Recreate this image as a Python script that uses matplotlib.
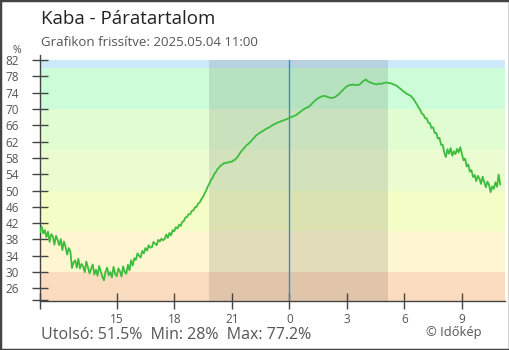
import matplotlib
matplotlib.use("Agg")
import matplotlib.pyplot as plt
from matplotlib.patches import Rectangle

plt.rcParams['font.family'] = ['Open Sans', 'DejaVu Sans']

# humidity readings, every 5 minutes from 11:00 (day before) to 11:00
start_hour = -13.0
step_hour = 1 / 12
humidity = [
    39.8, 41.2, 39.5, 40.3, 38.6, 39.9, 37.4, 39.3, 38.8, 36.7,
    38.9, 37.9, 36.6, 38.1, 35.4, 37.5, 36.2, 34.3, 35.9, 35.1,
    31.0, 32.4, 32.9, 31.1, 33.3, 30.9, 32.0, 31.4, 30.0, 32.6,
    31.2, 29.7, 30.8, 31.9, 29.4, 30.6, 29.1, 31.5, 30.2, 28.9,
    28.0, 30.1, 31.1, 29.2, 30.0, 28.7, 31.3, 29.6, 29.0, 30.9,
    30.2, 28.9, 31.4, 30.1, 29.6, 31.8, 30.4, 32.9, 31.6, 33.4,
    33.0, 34.6, 34.0, 33.6, 35.2, 34.6, 35.9, 35.3, 36.6, 36.0,
    36.1, 37.4, 37.0, 36.6, 37.9, 37.5, 38.2, 37.8, 38.1, 39.2,
    38.4, 39.6, 39.0, 40.3, 40.0, 41.0, 40.7, 41.6, 41.3, 42.3,
    42.5, 43.4, 43.5, 44.2, 44.2, 45.0, 45.1, 45.9, 46.0, 46.8,
    47.1, 47.9, 48.4, 49.3, 50.0, 51.0, 51.7, 52.6, 53.1, 54.0,
    54.5, 55.2, 55.6, 56.1, 56.3, 56.7, 56.7, 56.9, 56.8, 57.1,
    57.0, 57.4, 57.5, 58.0, 58.4, 59.1, 59.6, 60.1, 60.5, 61.0,
    61.3, 61.7, 62.0, 62.5, 62.9, 63.4, 63.7, 64.0, 64.2, 64.5,
    64.7, 65.0, 65.2, 65.4, 65.6, 65.9, 66.1, 66.3, 66.5, 66.7,
    66.8, 67.0, 67.1, 67.3, 67.4, 67.6, 67.8, 68.0, 68.1, 68.3,
    68.4, 68.7, 69.0, 69.3, 69.6, 69.9, 70.1, 70.3, 70.5, 70.8,
    71.2, 71.6, 72.0, 72.3, 72.6, 72.8, 73.0, 73.1, 73.2, 73.1,
    72.9, 72.8, 72.7, 72.7, 72.8, 73.0, 73.3, 73.6, 74.0, 74.4,
    74.8, 75.2, 75.5, 75.7, 75.9, 75.8, 76.0, 75.8, 75.9, 75.8,
    76.0, 76.3, 76.7, 77.0, 77.2, 76.8, 76.6, 76.4, 76.3, 76.1,
    76.1, 76.0, 76.2, 76.1, 76.2, 76.3, 76.4, 76.5, 76.3, 76.3,
    76.2, 76.0, 75.9, 75.7, 75.4, 75.1, 74.8, 74.4, 74.2, 73.8,
    73.6, 73.4, 73.2, 72.7, 72.3, 71.6, 71.0, 70.3, 69.7, 68.8,
    68.6, 67.7, 67.7, 66.6, 66.5, 65.3, 65.5, 64.1, 64.1, 62.7,
    62.9, 61.2, 61.2, 59.3, 58.2, 60.1, 59.0, 60.4, 58.5, 59.6,
    58.9, 60.2, 59.3, 60.6, 59.0, 57.4, 57.8, 55.9, 56.4, 54.6,
    55.0, 53.3, 53.8, 52.3, 53.6, 52.9, 51.6, 53.4, 52.1, 50.8,
    52.2, 51.4, 49.6, 51.0, 50.4, 52.0, 50.9, 53.9, 51.5,
]
hours = [start_hour + i * step_hour for i in range(len(humidity))]

# coloured humidity bands
band_edges = [23.05, 30, 40, 50, 60, 70, 80, 82]
band_colors = ['#fcdcbe', '#fef6d0', '#f5fdc6', '#ebfdd0', '#e0fdd2', '#ccfdd8', '#cce9fb']

night = (-4.17, 5.16)
xticks = [-9, -6, -3, 0, 3, 6, 9]
xtick_labels = ['15', '18', '21', '0', '3', '6', '9']
yticks = list(range(26, 83, 4))

fig = plt.figure(figsize=(5.1, 3.5), dpi=100)
ax = fig.add_axes([40 / 510, 49.5 / 350, 465 / 510, 245.5 / 350])
ax.set_xlim(-13.0, 11.25)
ax.set_ylim(23.05, 83.2)
top_frac = (82 - 23.05) / (83.2 - 23.05)

for lo, hi, c in zip(band_edges[:-1], band_edges[1:], band_colors):
    ax.axhspan(lo, hi, color=c, lw=0, zorder=0)
ax.axvspan(night[0], night[1], ymax=top_frac,
           color='#303030', alpha=0.13, lw=0, zorder=1)
ax.axvline(0, ymax=top_frac, color='#3a8ccc', lw=1, zorder=2)

ax.plot(hours, humidity, color='#3dbd3d', lw=1.3, zorder=3)

for s in ['top', 'right']:
    ax.spines[s].set_visible(False)
for s in ['left', 'bottom']:
    ax.spines[s].set_color('#444444')
    ax.spines[s].set_linewidth(1)

ax.set_xticks([-13.0] + xticks)
ax.set_xticklabels([''] + xtick_labels)
ax.set_yticks([23.05] + yticks)
ax.set_yticklabels([''] + [str(v) for v in yticks])
ax.tick_params(axis='both', direction='inout', length=12, width=1,
               color='#444444', labelcolor='#555555', labelsize=8.5)
ax.tick_params(axis='y', pad=9)
ax.tick_params(axis='x', pad=3)

fig.text(41 / 510, 1 - 24 / 350, 'Kaba - Páratartalom', fontsize=13.5, color='#222222')
fig.text(41 / 510, 1 - 45.5 / 350, 'Grafikon frissítve: 2025.05.04 11:00', fontsize=9.5, color='#555555')
fig.text(17 / 510, 1 - 53 / 350, '%', fontsize=7.5, color='#555555', ha='center')
fig.text(41 / 510, 1 - 339 / 350, 'Utolsó: 51.5%  Min: 28%  Max: 77.2%', fontsize=11.5, color='#555555')
fig.text(482 / 510, 1 - 336 / 350, '© Időkép', fontsize=9.3, color='#555555', ha='right')

fig.patches.append(Rectangle((0, 0), 1, 1, transform=fig.transFigure, fill=False,
                             edgecolor='#444444', lw=2.5))

fig.savefig('out.png', dpi=100)
